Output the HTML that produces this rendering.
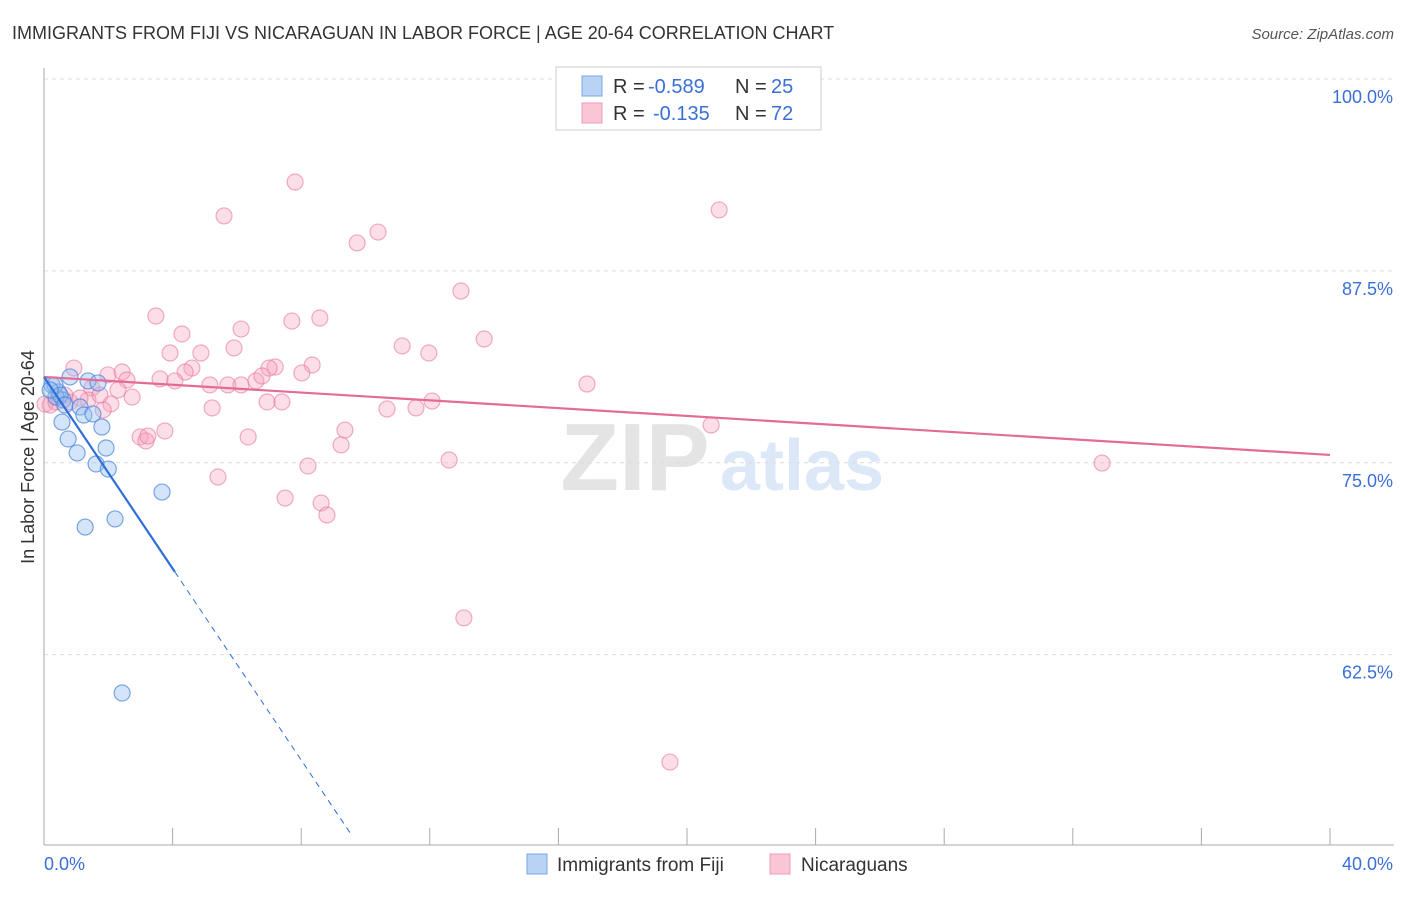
<!DOCTYPE html>
<html><head><meta charset="utf-8"><style>
body{margin:0;background:#fff;font-family:"Liberation Sans",sans-serif;}
svg text{font-family:"Liberation Sans",sans-serif;}
</style></head><body>
<svg id="chart" width="1406" height="892" xmlns="http://www.w3.org/2000/svg">
<text x="12" y="39" font-size="18" fill="#333">IMMIGRANTS FROM FIJI VS NICARAGUAN IN LABOR FORCE | AGE 20-64 CORRELATION CHART</text>
<text x="1394" y="39" font-size="15" fill="#555" text-anchor="end" font-style="italic">Source: ZipAtlas.com</text>
<g>
<text x="635" y="490" font-size="96" fill="#e4e4e4" font-family="Liberation Serif" text-anchor="middle" font-weight="bold">ZIP</text>
<text x="802" y="490" font-size="72" fill="#dce8f7" text-anchor="middle" font-weight="bold">atlas</text>
</g>
<g id="grid"></g><g id="axes"></g><g id="marks"></g>
<text transform="translate(34,457) rotate(-90)" font-size="18" fill="#333" text-anchor="middle">In Labor Force | Age 20-64</text>
<g>
<rect x="556" y="67" width="265" height="63" fill="#fff" stroke="#ccc"/>
<rect x="582" y="76" width="20" height="20" fill="#b9d3f5" stroke="#7aa6e6"/>
<rect x="582" y="103" width="20" height="20" fill="#f9c6d6" stroke="#ee9bb5"/>
<text x="613" y="93" font-size="20" fill="#333">R =</text>
<text x="648" y="93" font-size="20" fill="#3a6fd8">-0.589</text>
<text x="735" y="93" font-size="20" fill="#333">N =</text>
<text x="771" y="93" font-size="20" fill="#3a6fd8">25</text>
<text x="613" y="120" font-size="20" fill="#333">R =</text>
<text x="653" y="120" font-size="20" fill="#3a6fd8">-0.135</text>
<text x="735" y="120" font-size="20" fill="#333">N =</text>
<text x="771" y="120" font-size="20" fill="#3a6fd8">72</text>
</g>
<g>
<rect x="527" y="854" width="20" height="20" fill="#b9d3f5" stroke="#7aa6e6"/>
<text x="557" y="871" font-size="19" fill="#333">Immigrants from Fiji</text>
<rect x="770" y="854" width="20" height="20" fill="#f9c6d6" stroke="#ee9bb5"/>
<text x="801" y="871" font-size="19" fill="#333">Nicaraguans</text>
</g>
</svg>
<script>
const yTicks=[100,87.5,75,62.5];
const yTickLabels=["100.0%","87.5%","75.0%","62.5%"];
const xTicks=[0,4,8,12,16,20,24,28,32,36,40];
const fijiX=[0.25,0.44,0.59,0.81,1.37,1.68,0.37,0.56,0.75,1.03,1.12,1.24,1.52,1.62,1.80,1.93,2.0,1.28,2.21,3.67,2.43,0.34,0.5,0.19,0.65];
const fijiY=[80.07,79.61,79.09,80.59,80.33,80.2,79.28,77.65,76.55,75.64,78.63,78.11,78.18,74.92,77.33,75.96,74.59,70.81,71.34,73.09,60.0,80.07,79.41,79.74,78.76];
const nicX=[7.81,5.60,21.0,9.74,10.39,12.97,3.48,4.29,6.13,7.71,8.58,13.69,11.14,11.97,5.91,3.92,4.88,8.34,7.19,7.0,4.60,4.39,0.93,1.99,2.43,2.58,3.61,4.07,5.16,5.72,6.13,6.59,6.78,8.02,16.89,2.30,2.74,1.49,1.37,2.08,1.84,5.23,6.94,7.40,10.67,11.57,12.07,0.19,0.44,0.81,2.99,3.17,3.23,3.76,6.35,9.36,9.24,8.21,12.60,5.41,7.50,8.62,8.80,13.06,19.47,32.91,20.75,1.12,1.74,0.65,0.03,0.37];
const nicY=[93.29,91.08,91.47,89.32,90.03,86.19,84.56,83.39,83.71,84.23,84.43,83.06,82.61,82.15,82.48,82.15,82.15,81.37,81.24,81.17,81.17,80.91,81.17,80.72,80.91,80.39,80.46,80.33,80.07,80.07,80.07,80.33,80.65,80.85,80.13,79.74,79.28,79.87,79.09,78.83,78.44,78.57,78.96,78.96,78.50,78.57,79.02,78.76,79.22,78.96,76.68,76.42,76.74,77.07,76.68,77.13,76.16,74.79,75.18,74.07,72.70,72.38,71.60,64.89,55.5,74.98,77.46,79.22,79.41,79.41,78.83,78.96];
const fijiTrend=[80.59,-3.12];
const nicTrend=[80.59,-0.127];
const X0=44,X1=1330,Y100=79,PXY=15.35;
const sx=v=>X0+(X1-X0)*v/40;
const sy=v=>Y100+(100-v)*PXY;
const NS="http://www.w3.org/2000/svg";
function mk(t,a,p){const e=document.createElementNS(NS,t);for(const k in a)e.setAttribute(k,a[k]);p.appendChild(e);return e;}
const grid=document.getElementById('grid'),axes=document.getElementById('axes'),marks=document.getElementById('marks');
yTicks.forEach((t,i)=>{
 const l=mk('line',{x1:X0,x2:1394,y1:sy(t),y2:sy(t),stroke:'#ddd','stroke-dasharray':'4,4'},grid);
 
 
 const tx=mk('text',{x:1393,y:sy(t)+24,'font-size':18,fill:'#3a6fd8','text-anchor':'end'},axes);
 tx.textContent=yTickLabels[i];
 
 
});
const ax=mk('line',{x1:X0,x2:X0,y1:68,y2:845,stroke:'#aaa'},axes);


const bx=mk('line',{x1:X0,x2:1394,y1:845,y2:845,stroke:'#aaa'},axes);


xTicks.forEach(t=>{
 const l=mk('line',{x1:sx(t),x2:sx(t),y1:828,y2:845,stroke:'#aaa'},axes);
 
 
});
[[0,'0.0%','start',44],[40,'40.0%','end',1393]].forEach(d=>{
 const tx=mk('text',{x:d[3],y:870,'font-size':18,fill:'#3a6fd8','text-anchor':d[2]},axes);
 tx.textContent=d[1];
 
 
});
nicX.forEach((x,i)=>{
 const c=mk('circle',{cx:sx(x),cy:sy(nicY[i]),r:8,fill:'rgba(245,160,190,0.35)',stroke:'rgba(232,120,160,0.6)','stroke-width':1.2},marks);
 
 
});
fijiX.forEach((x,i)=>{
 const c=mk('circle',{cx:sx(x),cy:sy(fijiY[i]),r:8,fill:'rgba(150,190,240,0.4)',stroke:'rgba(70,130,220,0.7)','stroke-width':1.2},marks);
 
 
});
const nl=mk('line',{x1:sx(0),y1:sy(nicTrend[0]),x2:sx(40),y2:sy(nicTrend[0]+nicTrend[1]*40),stroke:'#e46b96','stroke-width':2.2},marks);


const fEnd=4.07,fDash=9.55;
const fl=mk('line',{x1:sx(0),y1:sy(fijiTrend[0]),x2:sx(fEnd),y2:sy(fijiTrend[0]+fijiTrend[1]*fEnd),stroke:'#2d6fd6','stroke-width':2.2},marks);


const fd=mk('line',{x1:sx(fEnd),y1:sy(fijiTrend[0]+fijiTrend[1]*fEnd),x2:sx(fDash),y2:sy(fijiTrend[0]+fijiTrend[1]*fDash),stroke:'#2d6fd6','stroke-width':1,'stroke-dasharray':'6,5'},marks);


</script>
</body></html>
